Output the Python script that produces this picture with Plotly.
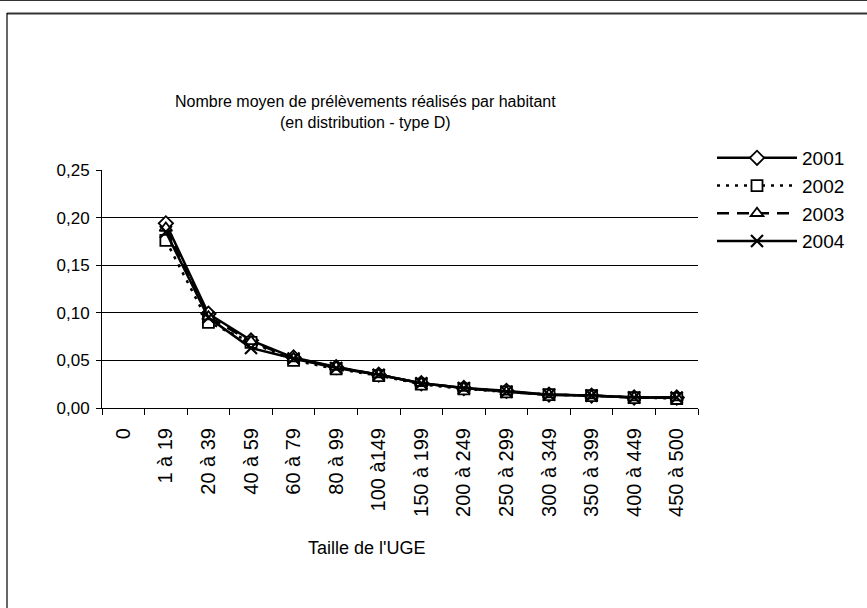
import plotly.graph_objects as go

W, H = 867, 608

categories = ["0", "1 à 19", "20 à 39", "40 à 59", "60 à 79", "80 à 99", "100 à149",
              "150 à 199", "200 à 249", "250 à 299", "300 à 349", "350 à 399",
              "400 à 449", "450 à 500"]

v2001 = [None, 0.194, 0.099, 0.071, 0.053, 0.043, 0.035, 0.026, 0.021, 0.018, 0.014, 0.013, 0.011, 0.011]
v2002 = [None, 0.176, 0.090, 0.069, 0.050, 0.041, 0.034, 0.025, 0.020, 0.017, 0.014, 0.013, 0.011, 0.010]
v2003 = [None, 0.189, 0.096, 0.070, 0.052, 0.043, 0.035, 0.026, 0.021, 0.017, 0.014, 0.013, 0.011, 0.011]
v2004 = [None, 0.185, 0.095, 0.063, 0.052, 0.042, 0.035, 0.026, 0.021, 0.017, 0.014, 0.013, 0.011, 0.011]

series = [
    ("2001", v2001, "solid", "diamond"),
    ("2002", v2002, "3px,6px", "square"),
    ("2003", v2003, "12px,8px", "triangle-up"),
    ("2004", v2004, "solid", "x-thin"),
]

font = "Liberation Sans, Arial, sans-serif"

fig = go.Figure()
for name, vals, dash, sym in series:
    is_x = sym == "x-thin"
    fig.add_trace(go.Scatter(
        x=categories, y=vals, name=name, mode="lines+markers",
        line=dict(color="black", width=2.5, dash=dash),
        marker=dict(symbol=sym, size=11 if not is_x else 12,
                    color="white" if not is_x else "black",
                    line=dict(color="black", width=1.8 if not is_x else 2.2)),
        connectgaps=False,
    ))

def px(x):
    return x / W

def py(y):
    return 1 - y / H

fig.update_layout(
    width=W, height=H,
    margin=dict(l=0, r=0, t=0, b=0),
    paper_bgcolor="white", plot_bgcolor="white",
    font=dict(family=font, size=16, color="black"),
    showlegend=True,
    legend=dict(x=px(712), y=py(139), xanchor="left", yanchor="top",
                bgcolor="rgba(0,0,0,0)", font=dict(size=19),
                itemwidth=80, tracegroupgap=0),
    xaxis=dict(domain=[px(102), px(698)], type="category",
               categoryorder="array", categoryarray=categories,
               range=[-0.5, len(categories) - 0.5],
               showline=True, linecolor="black", linewidth=1,
               ticks="outside", tickson="boundaries", ticklen=6, tickcolor="black",
               tickangle=-90, showgrid=False, automargin=False,
               ticklabelstandoff=11,
               tickfont=dict(size=20), anchor="y"),
    yaxis=dict(domain=[py(408), py(170)], range=[0, 0.25], dtick=0.05,
               tickformat=".2f", showline=True, linecolor="black", linewidth=1,
               ticks="outside", ticklen=5, tickcolor="black",
               ticklabelstandoff=3,
               showgrid=True, gridcolor="black", gridwidth=1,
               zeroline=False, automargin=False, tickfont=dict(size=17),
               anchor="x"),
    separators=", ",
)

fig.add_annotation(text="Nombre moyen de prélèvements réalisés par habitant<br>(en distribution - type D)",
                   xref="paper", yref="paper", x=px(365), y=py(112), xanchor="center", yanchor="middle",
                   showarrow=False, font=dict(size=16, family=font))
fig.add_annotation(text="Taille de l'UGE", xref="paper", yref="paper", x=px(366), y=py(548),
                   xanchor="center", yanchor="middle", showarrow=False, font=dict(size=18, family=font))

# frame lines
fig.add_shape(type="line", xref="paper", yref="paper", x0=0, x1=1, y0=py(0.5), y1=py(0.5),
              line=dict(color="#333", width=1))
fig.add_shape(type="line", xref="paper", yref="paper", x0=px(7), x1=1, y0=py(13.5), y1=py(13.5),
              line=dict(color="#333", width=2))
fig.add_shape(type="line", xref="paper", yref="paper", x0=px(7), x1=px(7), y0=py(13), y1=0,
              line=dict(color="black", width=1.2))

fig.write_html("out.html", config={"displayModeBar": False},
               post_script="document.body.style.margin='0';document.body.style.overflow='hidden';")
